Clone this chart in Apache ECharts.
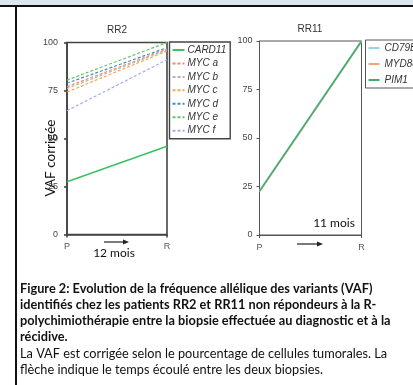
<!DOCTYPE html>
<html><head><meta charset="utf-8">
<script src="https://cdn.jsdelivr.net/npm/echarts@6/dist/echarts.min.js"></script>
<style>html,body{margin:0;padding:0;background:#fff}#c{width:413px;height:385px}</style>
</head><body><div id="c"></div>
<script>
// ---- data ----
const categories = ['P', 'R'];
const rr2Names = ['CARD11', 'MYC a', 'MYC b', 'MYC c', 'MYC d', 'MYC e', 'MYC f'];
const card11 = [27.5, 46];
const mycA = [77, 96.6];
const mycB = [76, 96.2];
const mycC = [74.2, 95.6];
const mycD = [78.8, 97.3];
const mycE = [80.4, 100];
const mycF = [64.5, 91];
const rr11Names = ['CD79B', 'MYD88', 'PIM1'];
const cd79b = [22.9, 100];
const myd88 = [22.2, 99.6];
const pim1 = [22.6, 100];
const yMin = 0, yMax = 100, yStep = 25;
const titles = ['RR2', 'RR11'];
const gapLabels = ['12 mois', '11 mois'];
const yName = 'VAF corrigée';
const captionBold = [
  'Figure 2: Evolution de la fréquence allélique des variants (VAF)',
  'identifiés chez les patients RR2 et RR11 non répondeurs à la R-',
  'polychimiothérapie entre la biopsie effectuée au diagnostic et à la',
  'récidive.'
];
const captionNormal = [
  'La VAF est corrigée selon le pourcentage de cellules tumorales. La',
  'flèche indique le temps écoulé entre les deux biopsies.'
];

const rr2Data = [card11, mycA, mycB, mycC, mycD, mycE, mycF];
const rr2Colors = ['#3cc063', '#f28a64', '#b4b4b4', '#f6a944', '#3f8fc6', '#66c267', '#aaaaea'];
const rr11Data = [cd79b, myd88, pim1];
const rr11Colors = ['#93d3f2', '#f2a27c', '#3fae6a'];

const chart = echarts.init(document.getElementById('c'), null, {renderer: 'canvas'});
const FONT = 'Liberation Sans, Arial, sans-serif';
const CAP = 'Lato, sans-serif';

function yAxis(idx, lineW, color, margin) {
  return {
    gridIndex: idx, type: 'value', min: yMin, max: yMax, interval: yStep,
    splitLine: {show: false},
    axisLine: {show: true, lineStyle: {color: color, width: lineW}},
    axisTick: {show: true, length: 3, lineStyle: {color: color, width: lineW}},
    axisLabel: {fontFamily: FONT, fontSize: 9, color: '#444', margin: margin}
  };
}
function xAxis(idx, lineW, color) {
  return {
    gridIndex: idx, type: 'category', data: categories, boundaryGap: false,
    axisLine: {show: true, lineStyle: {color: color, width: lineW}},
    axisTick: {show: true, length: 3, lineStyle: {color: color, width: lineW}},
    axisLabel: {fontFamily: FONT, fontSize: 9, color: '#555', margin: 8}
  };
}

const series = [];
rr2Names.forEach((n, i) => {
  series.push({
    name: n, type: 'line', xAxisIndex: 0, yAxisIndex: 0, data: rr2Data[i],
    symbol: 'none', color: rr2Colors[i],
    lineStyle: {width: i === 0 ? 1.5 : 1.2, type: i === 0 ? 'solid' : [3, 2]}
  });
});
rr11Names.forEach((n, i) => {
  series.push({
    name: n, type: 'line', xAxisIndex: 1, yAxisIndex: 1, data: rr11Data[i],
    symbol: 'none', color: rr11Colors[i], z: i === 1 ? 1 : 2,
    lineStyle: {width: 1.5}
  });
});

function arrow(x1, x2, y) {
  return [
    {type: 'line', shape: {x1: x1, y1: y, x2: x2 - 5, y2: y}, style: {stroke: '#222', lineWidth: 1.2}},
    {type: 'polygon', shape: {points: [[x2 - 6, y - 2.5], [x2, y], [x2 - 6, y + 2.5]]}, style: {fill: '#222'}}
  ];
}

const graphic = [
  {type: 'rect', shape: {x: 0, y: 0, width: 413, height: 5}, style: {fill: '#dde7f1'}},
  {type: 'rect', shape: {x: 0, y: 5, width: 413, height: 2}, style: {fill: '#111'}},
  {type: 'rect', shape: {x: 15, y: 6, width: 2, height: 379}, style: {fill: '#111'}},
  {type: 'text', x: 117, y: 30, style: {text: titles[0], font: '10px ' + FONT, fill: '#333', align: 'center', verticalAlign: 'middle'}},
  {type: 'text', x: 310, y: 29, style: {text: titles[1], font: '10px ' + FONT, fill: '#333', align: 'center', verticalAlign: 'middle'}},
  {type: 'text', x: 51, y: 158, rotation: Math.PI / 2, style: {text: yName, font: '13.5px ' + CAP, fill: '#111', align: 'center', verticalAlign: 'middle'}},
  {type: 'text', x: 114, y: 253, style: {text: gapLabels[0], font: '12px ' + CAP, fill: '#111', align: 'center', verticalAlign: 'middle'}},
  {type: 'text', x: 334, y: 223, style: {text: gapLabels[1], font: '12px ' + CAP, fill: '#111', align: 'center', verticalAlign: 'middle'}},
  ...arrow(104, 129, 242),
  ...arrow(297, 323, 244)
];
captionBold.forEach((t, i) => {
  graphic.push({type: 'text', x: 20, y: 288.5 + i * 16.3, scaleX: 1.02, style: {text: t, font: 'bold 12.5px ' + CAP, fill: '#111', verticalAlign: 'middle'}});
});
captionNormal.forEach((t, i) => {
  graphic.push({type: 'text', x: 20, y: 353.5 + i * 16.5, scaleX: 1.02, style: {text: t, font: '12.5px ' + CAP, fill: '#111', verticalAlign: 'middle'}});
});

chart.setOption({
  animation: false,
  backgroundColor: '#fff',
  grid: [
    {left: 67, top: 42.5, width: 100, height: 192, show: true, borderColor: '#444', borderWidth: 1.6, backgroundColor: 'transparent'},
    {left: 259.5, top: 41, width: 102, height: 194, show: true, borderColor: '#555', borderWidth: 1, backgroundColor: 'transparent'}
  ],
  xAxis: [xAxis(0, 1.6, '#444'), xAxis(1, 1, '#555')],
  yAxis: [yAxis(0, 1.6, '#444', 9), yAxis(1, 1, '#555', 7)],
  legend: [
    {
      data: rr2Names, orient: 'vertical', left: 169.5, top: 42,
      itemWidth: 12, itemHeight: 10, itemGap: 3.45, padding: [3, 4, 3, 2],
      borderColor: '#444', borderWidth: 1.4, selectedMode: false,
      itemStyle: {opacity: 0},
      textStyle: {fontFamily: FONT, fontSize: 10, fontStyle: 'italic', color: '#333', padding: [0, 0, 0, -2]}
    },
    {
      data: rr11Names, orient: 'vertical', left: 365.5, top: 40,
      itemWidth: 11, itemHeight: 10, itemGap: 6, padding: [3, 6, 3, 2],
      borderColor: '#555', borderWidth: 1, selectedMode: false,
      itemStyle: {opacity: 0},
      textStyle: {fontFamily: FONT, fontSize: 10, fontStyle: 'italic', color: '#333'}
    }
  ],
  series: series,
  graphic: graphic
});
</script></body></html>
